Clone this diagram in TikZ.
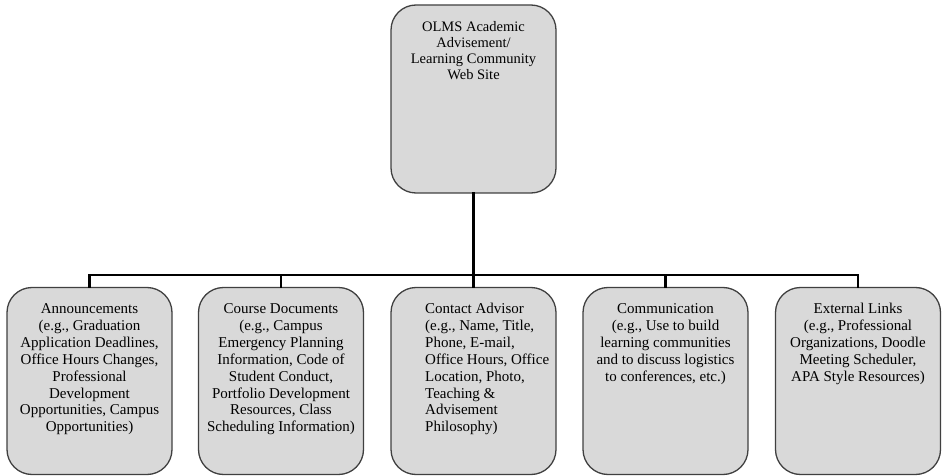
\documentclass[tikz,border=0pt]{standalone}
\usepackage{fontspec}
\setmainfont{Liberation Serif}
\begin{document}
\begin{tikzpicture}[x=1pt,y=-1pt,
  box/.style={draw=black!75,line width=1.3pt,fill=black!15,rounded corners=25pt,
    minimum width=165pt,inner sep=0pt},
  topbox/.style={box,minimum height=188pt},
  subbox/.style={box,minimum height=187pt},
  toptext/.style={anchor=north,align=center,inner sep=0pt,font=\fontsize{14.5}{16.2}\selectfont},
  subtext/.style={anchor=north,align=center,inner sep=0pt,font=\fontsize{15}{16.9}\selectfont},
  link/.style={line width=2.8pt,line cap=rect}]
\useasboundingbox (0,0) rectangle (943,476);
\node[topbox] (top) at (473.5,99) {};
\node[toptext] (toplbl) at ([yshift=-15.2pt]top.north) {\strut OLMS Academic\\Advisement/\\Learning Community\\Web Site};

\node[subbox] (b1) at (89.5,381) {};
\node[subbox] (b2) at (281,381) {};
\node[subbox] (b3) at (473.5,381) {};
\node[subbox] (b4) at (665.5,381) {};
\node[subbox] (b5) at (858,381) {};

\node[subtext] (t1) at ([yshift=-14.7pt]b1.north) {\strut Announcements\\(e.g., Graduation\\Application Deadlines,\\Office Hours Changes,\\Professional\\Development\\Opportunities, Campus\\Opportunities)};
\node[subtext] (t2) at ([yshift=-14.7pt]b2.north) {\strut Course Documents\\(e.g., Campus\\Emergency Planning\\Information, Code of\\Student Conduct,\\Portfolio Development\\Resources, Class\\Scheduling Information)};
\node[subtext,anchor=north west,align=left] (t3) at ([yshift=-14.7pt]b3.north -| 425,0) {\strut Contact Advisor\\(e.g., Name, Title,\\Phone, E-mail,\\Office Hours, Office\\Location, Photo,\\Teaching \&\\Advisement\\Philosophy)};
\node[subtext] (t4) at ([yshift=-14.7pt]b4.north) {\strut Communication\\(e.g., Use to build\\learning communities\\and to discuss logistics\\to conferences, etc.)};
\node[subtext] (t5) at ([yshift=-14.7pt]b5.north) {\strut External Links\\(e.g., Professional\\Organizations, Doodle\\Meeting Scheduler,\\APA Style Resources)};

\coordinate (bus) at (473.5,275);
\draw[link] (top.south) -- (bus);
\draw[link] (b1.north) |- (b5.north |- bus) -- (b5.north);
\foreach \b in {b2,b3,b4} \draw[link] (\b.north) -- (\b.north |- bus);
\end{tikzpicture}
\end{document}
